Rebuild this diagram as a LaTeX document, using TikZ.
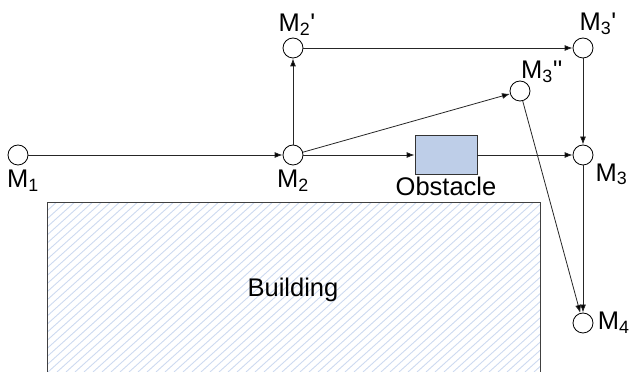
\documentclass[tikz,border=0pt]{standalone}
\usepackage{fontspec}
\setmainfont{Liberation Sans}
\usetikzlibrary{automata,positioning,arrows.meta}
\definecolor{obstfill}{RGB}{190,206,232}
\definecolor{hatchblue}{RGB}{205,218,240}
\tikzset{
every state/.style={draw=black, line width=0.8pt, fill=white, minimum size=20pt, inner sep=0pt}, % receiver points
link/.style={draw=black!85, line width=0.8pt, -{Latex[length=8pt,width=6pt]}}, % propagation paths
obstacle/.style={draw=black!80, line width=0.8pt, fill=obstfill, minimum width=62pt, minimum height=39pt},
}
\newcommand{\pr}{\textquotesingle}

\begin{document}
\begin{tikzpicture}[x=1pt,y=1pt,on grid,font=\fontsize{25.5}{30}\selectfont]
   \useasboundingbox (0,0) rectangle (633,372);
   % building, hatched
   \begin{scope}
      \clip (47,0) rectangle (540,169);
      \foreach \i in {-150,-141,...,540}
         \draw[hatchblue, line width=0.9pt] (\i,0) -- ++(42:300);
   \end{scope}
   \draw[black!75, line width=1pt] (47,0) -- (47,169) -- (540,169) -- (540,0);
   \node (building) at (293,82) {Building};
   % points
   \node[state] (m_1) at (18,217) [label={[xshift=5pt,label distance=1pt]below:M\textsubscript{1}}] {};
   \node[state] (m_2) [right=275pt of m_1, label={[label distance=1pt]below:M\textsubscript{2}}] {};
   \node[state] (m_2p) [above=107pt of m_2, label={[xshift=4pt,label distance=-1pt]above:M\textsubscript{2}\pr}] {};
   \node[state] (m_3p) [right=290pt of m_2p, label={[xshift=15pt,label distance=-1pt]above:M\textsubscript{3}\pr}] {};
   \node[state] (m_3) [below=107pt of m_3p, label={[anchor=north west,inner sep=1pt,xshift=4pt,yshift=0pt]south east:M\textsubscript{3}}] {};
   \node[state] (m_4) [below=168pt of m_3, label={[label distance=1pt]right:M\textsubscript{4}}] {};
   \node[state] (m_3pp) [above left=64pt and 63pt of m_3, label={[anchor=south west,inner sep=0pt,xshift=1pt,yshift=-2pt]north:M\textsubscript{3}\pr\pr}] {};
   \node[obstacle] (obst) [right=153pt of m_2, label={[inner sep=1pt,label distance=1pt]below:Obstacle}] {};
   \path[link]
   (m_1) edge (m_2)
   (m_2) edge (m_2p)
   (m_2p) edge (m_3p)
   (m_2) edge (m_3pp)
   (m_2) edge (obst)
   (obst) edge (m_3)
   (m_3p) edge (m_3)
   (m_3) edge (m_4)
   (m_3pp) edge (m_4);
\end{tikzpicture}
\end{document}
